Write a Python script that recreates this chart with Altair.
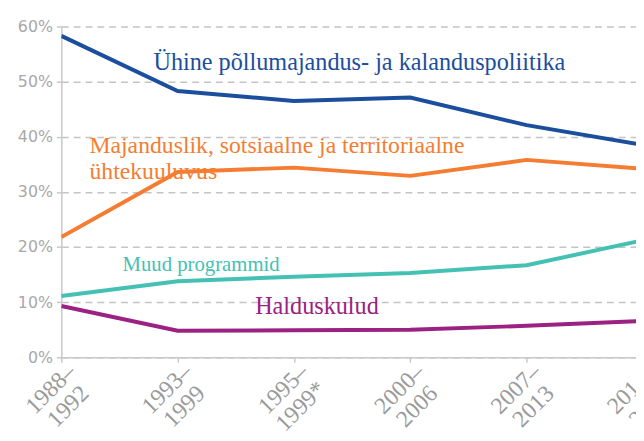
import altair as alt
import pandas as pd

periods = ["1988–1992", "1993–1999", "1995–1999*", "2000–2006", "2007–2013", "2014–2020"]
uhine = [0.583, 0.483, 0.465, 0.471, 0.421, 0.385]
majanduslik = [0.218, 0.336, 0.344, 0.329, 0.358, 0.342]
muud = [0.111, 0.138, 0.146, 0.153, 0.167, 0.212]
haldus = [0.093, 0.048, 0.049, 0.050, 0.057, 0.066]

series_names = [
    "Ühine põllumajandus- ja kalanduspoliitika",
    "Majanduslik, sotsiaalne ja territoriaalne ühtekuuluvus",
    "Muud programmid",
    "Halduskulud",
]
series_values = [uhine, majanduslik, muud, haldus]
colors = ["#1b4e9d", "#f47d32", "#45c1b3", "#9b2183"]

SERIF = "Liberation Serif"

rows = []
for name, vals in zip(series_names, series_values):
    for p, v in zip(periods, vals):
        rows.append({"period": p, "share": v, "series": name})
df = pd.DataFrame(rows)

x_scale = alt.Scale(domain=periods, range=[0, 589], padding=0)
y_scale = alt.Scale(domain=[0, 0.6])

lines = alt.Chart(df).mark_line(strokeWidth=4, clip=True).encode(
    x=alt.X("period:N", sort=periods, scale=x_scale,
            axis=alt.Axis(title=None, labelAngle=-45, labelFont=SERIF,
                          labelFontSize=24, labelColor="#9a9a9a", labelLineHeight=25,
                          labelAlign="center", labelBaseline="middle",
                          labelPadding=27, labelOffset=-11, labelOverlap=False,
                          labelFlush=False, labelBound=False,
                          labelExpr="[slice(datum.label,0,5), slice(datum.label,5)]",
                          tickSize=5, tickColor="#c8c8c8", tickWidth=1.5,
                          domainColor="#c8c8c8", domainWidth=1.5, grid=False)),
    y=alt.Y("share:Q", scale=y_scale,
            axis=alt.Axis(title=None, format=".0%", values=[0, 0.1, 0.2, 0.3, 0.4, 0.5, 0.6],
                          labelFont="DejaVu Sans", labelFontSize=16, labelColor="#a8a8a8",
                          labelPadding=4, tickSize=5, tickColor="#c8c8c8", tickWidth=1.5,
                          domainColor="#c8c8c8", domainWidth=1.5,
                          grid=True, gridDash=[7, 5], gridColor="#c4c4c4", gridWidth=1.5)),
    color=alt.Color("series:N", scale=alt.Scale(domain=series_names, range=colors), legend=None),
)

label_texts = [
    "Ühine põllumajandus- ja kalanduspoliitika",
    "Majanduslik, sotsiaalne ja territoriaalne\nühtekuuluvus",
    "Muud programmid",
    "Halduskulud",
]
label_periods = ["1993–1999", "1988–1992", "1988–1992", "1993–1999"]
label_values = [0.521, 0.370, 0.156, 0.079]
label_dx = [-24.5, 28.5, 62, 78.5]
label_sizes = [24.5, 24, 21, 24.5]
label_colors = ["#1b4e9d", "#f47d32", "#45c1b3", "#9b2183"]

layers = [lines]
for t, p, v, dx, s, c in zip(label_texts, label_periods, label_values, label_dx, label_sizes, label_colors):
    ldf = pd.DataFrame({"period": [p], "share": [v], "label": [t]})
    layers.append(
        alt.Chart(ldf).mark_text(align="left", baseline="alphabetic", font=SERIF,
                                 fontSize=s, color=c, dx=dx, lineBreak="\n", lineHeight=26).encode(
            x=alt.X("period:N", sort=periods, scale=x_scale),
            y=alt.Y("share:Q", scale=y_scale),
            text="label:N",
        )
    )

chart = alt.layer(*layers).properties(
    width=582, height=335,
    autosize=alt.AutoSizeParams(type="none"),
    padding={"left": 54, "top": 16, "right": 0, "bottom": 74},
    background="white",
).configure_view(stroke=None)

chart.save("out.html", embed_options={"renderer": "svg", "actions": False})
